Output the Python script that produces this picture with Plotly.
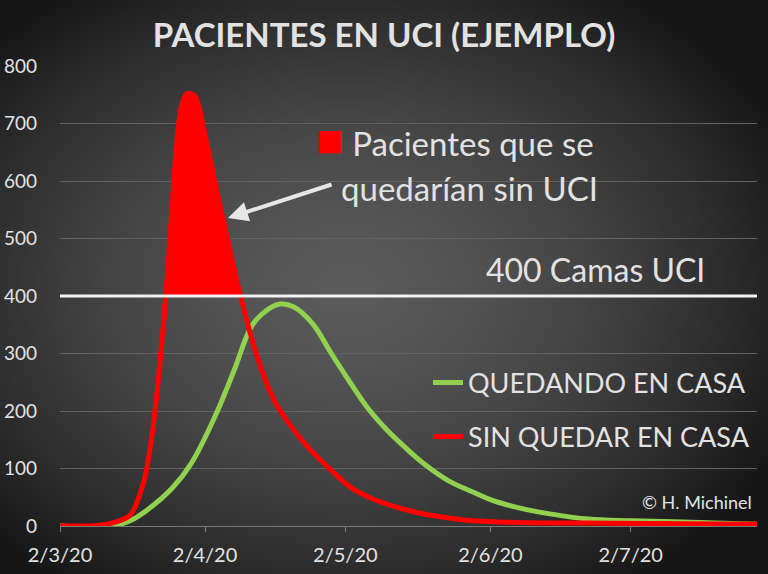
import base64
import struct
import zlib

import numpy as np
import pandas as pd
import plotly.graph_objects as go

# ------------------------------------------
# data
# ------------------------------------------
camas_uci = 400

fechas_sin_casa = ["2020-03-02", "2020-03-10", "2020-03-14", "2020-03-17", "2020-03-20",
                   "2020-03-22", "2020-03-24", "2020-03-25", "2020-03-26", "2020-03-27",
                   "2020-03-28", "2020-03-29", "2020-03-30", "2020-03-31", "2020-04-02",
                   "2020-04-05", "2020-04-07", "2020-04-09", "2020-04-13", "2020-04-17",
                   "2020-04-24", "2020-04-29", "2020-05-03", "2020-05-07", "2020-05-12",
                   "2020-05-16", "2020-05-20", "2020-05-27", "2020-06-04", "2020-06-21",
                   "2020-07-29"]
uci_sin_casa = [0, 1, 7, 19, 80, 179, 340, 440, 560, 670,
                732, 751, 752, 746, 680, 565, 492, 420, 298, 215,
                137, 97, 68, 50, 35, 26, 19, 11, 7, 5,
                3]

fechas_en_casa = ["2020-03-02", "2020-03-13", "2020-03-17", "2020-03-21", "2020-03-26",
                  "2020-03-30", "2020-04-04", "2020-04-08", "2020-04-12", "2020-04-15",
                  "2020-04-18", "2020-04-21", "2020-04-25", "2020-04-29", "2020-05-03",
                  "2020-05-07", "2020-05-11", "2020-05-15", "2020-05-19", "2020-05-24",
                  "2020-05-29", "2020-06-02", "2020-06-06", "2020-06-10", "2020-06-14",
                  "2020-06-23", "2020-07-02", "2020-07-13", "2020-07-20", "2020-07-29"]
uci_en_casa = [0, 0, 9, 30, 66, 108, 188, 266, 348, 374,
               386, 381, 352, 300, 250, 203, 166, 135, 107, 79,
               60, 46, 36, 28, 22, 12, 9, 7, 5, 3]

# ------------------------------------------
# area over the 400 beds (from the red series)
# ------------------------------------------
t = pd.to_datetime(fechas_sin_casa).astype("int64").to_numpy() / 1e9
v = np.array(uci_sin_casa, dtype=float)
above = np.where(v > camas_uci)[0]
i0, i1 = above[0], above[-1]
t_left = t[i0 - 1] + (camas_uci - v[i0 - 1]) / (v[i0] - v[i0 - 1]) * (t[i0] - t[i0 - 1])
t_right = t[i1] + (camas_uci - v[i1]) / (v[i1 + 1] - v[i1]) * (t[i1 + 1] - t[i1])
fill_t = np.concatenate([[t_left], t[above], [t_right]])
fill_x = pd.to_datetime(fill_t, unit="s")
fill_y = np.concatenate([[camas_uci], v[above], [camas_uci]])

# ------------------------------------------
# radial grey background as a small png
# ------------------------------------------
W, H = 192, 144
yy, xx = np.mgrid[0:H, 0:W]
r = np.sqrt(((xx - W * 0.45) / (W * 0.55)) ** 2 + ((yy - H * 0.5) / (H * 0.55)) ** 2)
grey = np.clip(90 - 54 * np.clip(r, 0, 1.3) ** 1.6, 20, 255).astype(np.uint8)


def png_uri(a):
    h, w = a.shape
    raw = b"".join(b"\x00" + a[k].tobytes() for k in range(h))

    def chunk(kind, data):
        return struct.pack(">I", len(data)) + kind + data + struct.pack(">I", zlib.crc32(kind + data))

    png = (b"\x89PNG\r\n\x1a\n" + chunk(b"IHDR", struct.pack(">IIBBBBB", w, h, 8, 0, 0, 0, 0))
           + chunk(b"IDAT", zlib.compress(raw)) + chunk(b"IEND", b""))
    return "data:image/png;base64," + base64.b64encode(png).decode()


# ------------------------------------------
# figure
# ------------------------------------------
FONT = "Lato, 'Open Sans', sans-serif"
TXT = "#e2e2e2"
ml, mr, mt, mb = 60, 11, 66, 48
pw, ph = 768 - ml - mr, 574 - mt - mb

fig = go.Figure()

fig.add_trace(go.Scatter(
    x=fill_x, y=fill_y, fill="toself", fillcolor="#ff0000", mode="none",
    showlegend=False, hoverinfo="skip"
))
fig.add_trace(go.Scatter(
    x=fechas_en_casa, y=uci_en_casa, mode="lines", name="QUEDANDO EN CASA",
    line=dict(color="#92d050", width=5, shape="spline", smoothing=1.0), legend="legend"
))
fig.add_trace(go.Scatter(
    x=fechas_sin_casa, y=uci_sin_casa, mode="lines", name="SIN QUEDAR EN CASA",
    line=dict(color="#ff0000", width=5, shape="spline", smoothing=0.9), legend="legend2"
))

fig.add_hline(y=camas_uci, line=dict(color="#f2f2f2", width=3), layer="above")

leg = dict(font=dict(family=FONT, size=27, color=TXT), bgcolor="rgba(0,0,0,0)",
           xanchor="left", yanchor="middle", itemwidth=30)
fig.update_layout(
    width=768, height=574,
    margin=dict(l=ml, r=mr, t=mt, b=mb),
    paper_bgcolor="#3a3a3a",
    plot_bgcolor="rgba(0,0,0,0)",
    images=[dict(source=png_uri(grey), xref="paper", yref="paper",
                 x=-ml / pw, y=1 + mt / ph, sizex=768 / pw, sizey=574 / ph,
                 sizing="stretch", layer="below", xanchor="left", yanchor="top")],
    title=dict(text="PACIENTES EN UCI (EJEMPLO)", x=0.5, xanchor="center",
               y=1 - 35 / 574, yanchor="middle",
               font=dict(family=FONT, size=33, color=TXT, weight="bold")),
    legend=dict(x=(428 - ml) / pw, y=(526 - 383) / ph, **leg),
    legend2=dict(x=(428 - ml) / pw, y=(526 - 437) / ph, **leg),
    xaxis=dict(
        range=["2020-03-02", "2020-07-29"],
        tick0="2020-03-02", dtick="M1", tickformat="%-d/%-m/%y",
        showgrid=False, showline=True, linecolor="#7a7a7a", linewidth=1,
        ticks="outside", ticklen=5, tickcolor="#7a7a7a", ticklabelstandoff=6,
        tickfont=dict(family=FONT, size=20, color=TXT), automargin=False,
    ),
    yaxis=dict(
        range=[0, 800], dtick=100, showgrid=True, gridcolor="#626262", gridwidth=1,
        zeroline=False, showline=False, ticks="", ticklabelstandoff=22,
        tickfont=dict(family=FONT, size=19, color=TXT), automargin=False,
    ),
    showlegend=True,
)

# label of the red area, in two lines
fig.add_annotation(
    text="<span style='color:#ff0000;font-size:46px'>■</span> Pacientes que se",
    xref="paper", yref="paper", x=(314 - ml) / pw, y=(526 - 138) / ph,
    xanchor="left", yanchor="middle",
    showarrow=False, font=dict(family=FONT, size=33, color=TXT)
)
fig.add_annotation(
    text="quedarían sin UCI",
    xref="paper", yref="paper", x=(339 - ml) / pw, y=(526 - 188) / ph,
    xanchor="left", yanchor="middle",
    showarrow=False, font=dict(family=FONT, size=33, color=TXT)
)
fig.add_annotation(
    text="", xref="paper", yref="paper", x=(228 - ml) / pw, y=(526 - 218) / ph,
    showarrow=True, ax=105, ay=-34, arrowhead=2, arrowsize=1, arrowwidth=4,
    arrowcolor="#e6e6e6"
)
fig.add_annotation(
    text=f"{camas_uci} Camas UCI", xref="paper", yref="y", x=(595 - ml) / pw, y=camas_uci,
    xanchor="center", yanchor="bottom", yshift=5, showarrow=False,
    font=dict(family=FONT, size=32, color=TXT)
)
fig.add_annotation(
    text="© H. Michinel", xref="paper", yref="paper", x=(754 - ml) / pw, y=(526 - 502) / ph,
    xanchor="right", yanchor="middle", showarrow=False,
    font=dict(family=FONT, size=18, color=TXT)
)

fig.write_html(
    "out.html",
    config={"displayModeBar": False},
    post_script="document.body.style.margin='0';document.body.style.overflow='hidden';"
                "document.documentElement.style.overflow='hidden';",
)
